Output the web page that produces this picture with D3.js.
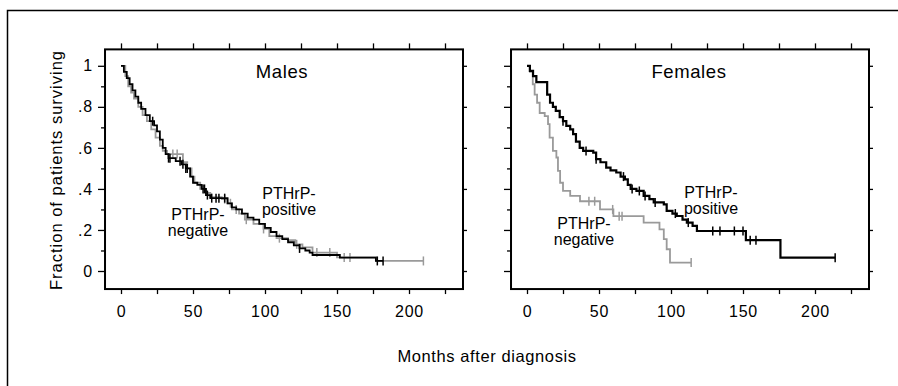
<!DOCTYPE html>
<html>
<head>
<meta charset="utf-8">
<script src="https://cdn.jsdelivr.net/npm/d3@7"></script>
<style>
  body { margin: 0; background: #fff; }
  text { font-family: "Liberation Sans", Arial, Helvetica, sans-serif; fill: #000; }
</style>
</head>
<body>
<div id="chart"></div>
<script>
// Kaplan-Meier curves: step times (months) and survival fraction
var maleNegT = [0, 3, 5, 7, 9, 12, 15, 18, 21, 24, 27, 29, 32, 43, 46, 49, 51, 55, 59, 62, 70, 74, 77, 82, 86, 92, 99, 103, 108, 116, 121, 126, 133, 150, 177];
var maleNegS = [1.0, .95, .90, .87, .84, .80, .76, .73, .69, .65, .61, .585, .57, .53, .50, .46, .43, .40, .38, .36, .35, .33, .30, .28, .25, .23, .205, .17, .16, .15, .13, .115, .09, .066, .049];
var maleNegEnd = 210;
var maleNegCens = [36, 39, 72, 76, 80, 87, 99, 110, 122, 136, 145, 155, 159, 210];

var malePosT = [0, 2, 4, 6, 8, 10, 12, 14, 17, 20, 23, 25, 27, 29, 31, 33, 38, 42, 45, 48, 50, 53, 56, 59, 62, 74, 77, 80, 84, 88, 92, 96, 100, 104, 108, 112, 116, 120, 124, 128, 131, 133, 152, 177];
var malePosS = [1.0, .97, .94, .91, .88, .85, .82, .79, .76, .73, .71, .68, .64, .60, .57, .55, .535, .52, .50, .46, .43, .42, .40, .37, .355, .33, .31, .30, .28, .26, .25, .23, .21, .19, .17, .155, .14, .125, .11, .10, .09, .078, .065, .049];
var malePosEnd = 182;
var malePosCens = [22, 33, 34, 41, 43, 45, 46, 57, 58, 60, 63, 66, 68, 72, 124, 178, 182];

var femNegT = [0, 2, 4, 5.3, 7, 8.8, 12.3, 14.6, 15.7, 18, 20.4, 21.5, 23, 25, 30, 36.8, 50.7, 60, 81, 92, 95, 97, 99.3];
var femNegS = [1.0, .97, .91, .86, .82, .77, .755, .716, .65, .585, .553, .488, .43, .39, .366, .34, .30, .267, .236, .203, .155, .106, .041];
var femNegEnd = 114;
var femNegCens = [43, 47, 59.5, 64, 66, 114];

var femPosT = [0, 2, 4.2, 6.5, 14, 16, 18, 20, 22.7, 25, 27.3, 30, 32, 34, 36.6, 39, 46, 48, 51, 55, 58, 62, 65, 68, 70, 72, 76, 81, 85, 88, 95, 97, 101, 104, 108, 111, 115, 118, 152, 176];
var femPosS = [1.0, .975, .95, .92, .86, .82, .80, .78, .75, .73, .707, .69, .667, .63, .60, .585, .577, .545, .53, .504, .49, .48, .46, .447, .42, .40, .39, .366, .35, .334, .325, .293, .28, .268, .25, .236, .22, .195, .15, .065];
var femPosEnd = 214;
var femPosCens = [25, 41, 48, 67, 73, 78, 82, 89, 103, 112, 129, 134, 144, 150, 155, 159, 214];

var panelTitles = ["Males", "Females"];
var xTickLabels = [0, 50, 100, 150, 200];
var yTickLabels = [0, .2, .4, .6, .8, 1];

var width = 898, height = 386;
var grey = "#9a9a9a";

var svg = d3.select('#chart')
  .append('svg')
  .attr('width', width)
  .attr('height', height);

// outer frame (right and bottom edges fall outside the picture)
svg.append('path')
  .attr('d', 'M7.5,' + height + 'V10.5H' + width)
  .attr('fill', 'none')
  .attr('stroke', '#000')
  .attr('stroke-width', 1.5);

var y = d3.scaleLinear().domain([0, 1]).range([271, 65.8]);

var panels = [
  { x0: 121, title: panelTitles[0], titleX: 282,
    series: [
      { T: maleNegT, S: maleNegS, end: maleNegEnd, cens: maleNegCens, color: grey, w: 1.8 },
      { T: malePosT, S: malePosS, end: malePosEnd, cens: malePosCens, color: '#000', w: 1.8 }
    ],
    labels: [
      { x: 289, y: 199, lines: ["PTHrP-", "positive"] },
      { x: 198, y: 220, lines: ["PTHrP-", "negative"] }
    ] },
  { x0: 527, title: panelTitles[1], titleX: 689,
    series: [
      { T: femNegT, S: femNegS, end: femNegEnd, cens: femNegCens, color: grey, w: 1.8 },
      { T: femPosT, S: femPosS, end: femPosEnd, cens: femPosCens, color: '#000', w: 2.2 }
    ],
    labels: [
      { x: 711, y: 198, lines: ["PTHrP-", "positive"] },
      { x: 584, y: 229, lines: ["PTHrP-", "negative"] }
    ] }
];

function yFmt(d) {
  if (d === 0) return "0";
  if (d === 1) return "1";
  return d3.format(".1f")(d).replace(/^0/, "");
}

// survival value at time t (step function)
function survAt(s, t) {
  var v = s.S[0];
  for (var i = 0; i < s.T.length; i++) {
    if (s.T[i] <= t) v = s.S[i];
  }
  return v;
}

panels.forEach(function (p, idx) {
  var x = d3.scaleLinear().domain([0, 200]).range([p.x0, p.x0 + 288]);
  var left = x(-11.1), right = x(237.5);
  var top = y(1.08), bottom = y(-0.088);
  var g = svg.append('g');

  // bottom axis
  var bx = g.append('g').attr('transform', 'translate(0,' + bottom + ')')
    .call(d3.axisBottom(x).tickValues(d3.range(0, 226, 25)).tickSize(5).tickPadding(12)
      .tickFormat(function (d) { return xTickLabels.indexOf(d) >= 0 ? d : ""; }));
  // top axis
  var tx = g.append('g').attr('transform', 'translate(0,' + top + ')')
    .call(d3.axisTop(x).tickValues(d3.range(0, 226, 25)).tickSize(6).tickFormat(""));

  // left axis: major + minor
  var ly = g.append('g').attr('transform', 'translate(' + left + ',0)')
    .call(d3.axisLeft(y).tickValues(yTickLabels).tickSize(7).tickPadding(5)
      .tickFormat(idx === 0 ? yFmt : ""));
  var lym = g.append('g').attr('transform', 'translate(' + left + ',0)')
    .call(d3.axisLeft(y).tickValues([.1, .3, .5, .7, .9]).tickSize(4).tickFormat(""));
  // right axis
  var ry = g.append('g').attr('transform', 'translate(' + right + ',0)')
    .call(d3.axisRight(y).tickValues(yTickLabels).tickSize(4).tickFormat(""));

  [bx, tx, ly, lym, ry].forEach(function (a) {
    a.select('.domain').remove();
    a.selectAll('line').attr('stroke', '#000').attr('stroke-width', 1.3);
    a.selectAll('text')
      .style('font-size', '16px')
      .style('letter-spacing', '0.8px')
      .attr('font-family', null)
      .attr('fill', '#000');
  });
  bx.selectAll('text').attr('dy', '0.71em');

  // plot box
  g.append('rect')
    .attr('x', left).attr('y', top)
    .attr('width', right - left).attr('height', bottom - top)
    .attr('fill', 'none')
    .attr('stroke', '#000')
    .attr('stroke-width', 2);

  // curves
  var line = d3.line()
    .x(function (d) { return x(d[0]); })
    .y(function (d) { return y(d[1]); })
    .curve(d3.curveStepAfter);

  p.series.forEach(function (s) {
    var pts = s.T.map(function (t, i) { return [t, s.S[i]]; });
    pts.push([s.end, s.S[s.S.length - 1]]);
    g.append('path')
      .datum(pts)
      .attr('d', line)
      .attr('fill', 'none')
      .attr('stroke', s.color)
      .attr('stroke-width', s.w);

    g.selectAll(null)
      .data(s.cens)
      .enter()
      .append('line')
      .attr('x1', function (d) { return x(d); })
      .attr('x2', function (d) { return x(d); })
      .attr('y1', function (d) { return y(survAt(s, d)) - 4.5; })
      .attr('y2', function (d) { return y(survAt(s, d)) + 4.5; })
      .attr('stroke', s.color)
      .attr('stroke-width', 1.5);
  });

  // panel title
  g.append('text')
    .attr('x', p.titleX).attr('y', 78)
    .attr('text-anchor', 'middle')
    .style('font-size', '18.5px')
    .style('letter-spacing', '0.6px')
    .text(p.title);

  p.labels.forEach(function (l) {
    l.lines.forEach(function (str, i) {
      g.append('text')
        .attr('x', l.x).attr('y', l.y + i * 16)
        .attr('text-anchor', 'middle')
        .style('font-size', '16px')
        .text(str);
    });
  });
});

// axis titles
svg.append('text')
  .attr('transform', 'translate(62,170) rotate(-90)')
  .attr('text-anchor', 'middle')
  .style('font-size', '16.5px')
  .style('letter-spacing', '1px')
  .text('Fraction of patients surviving');

svg.append('text')
  .attr('x', 487).attr('y', 362)
  .attr('text-anchor', 'middle')
  .style('font-size', '16.5px')
  .style('letter-spacing', '0.6px')
  .text('Months after diagnosis');
</script>
</body>
</html>
